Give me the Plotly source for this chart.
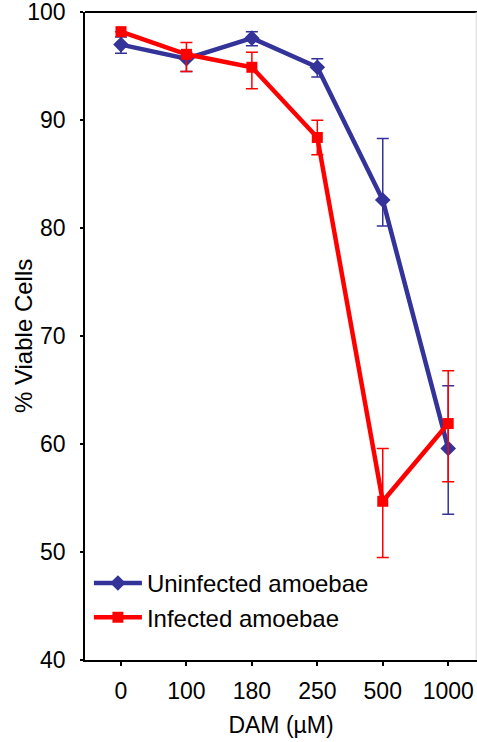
import plotly.graph_objects as go

categories = ["0", "100", "180", "250", "500", "1000"]
x_pos = [0, 1, 2, 3, 4, 5]

uninfected = [97.0, 95.7, 97.6, 94.9, 82.6, 59.6]
uninfected_err_plus = [0.7, 0.6, 0.6, 0.8, 5.7, 5.8]
uninfected_err_minus = [0.8, 1.2, 0.7, 0.9, 2.4, 6.1]

infected = [98.2, 96.1, 94.9, 88.4, 54.7, 61.9]
infected_err_plus = [0.0, 1.1, 1.4, 1.6, 4.9, 4.9]
infected_err_minus = [0.0, 1.6, 2.0, 1.6, 5.2, 5.4]

y_ticks = [40, 50, 60, 70, 80, 90, 100]

BLUE = "#333399"
RED = "#FF0000"
FONT = "Liberation Sans, Arial, sans-serif"

fig = go.Figure()
fig.add_trace(go.Scatter(
    x=x_pos, y=uninfected, mode="lines+markers", name="Uninfected amoebae",
    line=dict(color=BLUE, width=4.5),
    marker=dict(symbol="diamond", size=12, color=BLUE),
    error_y=dict(type="data", symmetric=False, array=uninfected_err_plus,
                 arrayminus=uninfected_err_minus, color=BLUE, thickness=1.5, width=6),
))
fig.add_trace(go.Scatter(
    x=x_pos, y=infected, mode="lines+markers", name="Infected amoebae",
    line=dict(color=RED, width=4.5),
    marker=dict(symbol="square", size=11, color=RED),
    error_y=dict(type="data", symmetric=False, array=infected_err_plus,
                 arrayminus=infected_err_minus, color=RED, thickness=1.5, width=6),
))

fig.update_layout(
    width=477, height=742,
    margin=dict(l=85, r=0, t=12, b=82),
    paper_bgcolor="white", plot_bgcolor="white",
    font=dict(family=FONT, color="black", size=23),
    showlegend=True,
    legend=dict(x=0.01, y=0.153, xanchor="left", yanchor="top",
                bgcolor="rgba(0,0,0,0)", font=dict(size=24, family=FONT),
                itemwidth=48, tracegroupgap=0),
    xaxis=dict(
        range=[-0.55, 5.44], tickmode="array", tickvals=x_pos, ticktext=categories,
        showline=True, linecolor="black", linewidth=1.5,
        ticks="outside", ticklen=4, tickcolor="black", tickwidth=1.5,
        showgrid=False, zeroline=False, automargin=False,
        ticklabelstandoff=6, ticklabeloverflow="allow",
        tickfont=dict(size=23, family=FONT),
        title=dict(text="DAM (µM)", font=dict(size=23, family=FONT), standoff=14),
    ),
    yaxis=dict(
        range=[40, 100.02], tickmode="array", tickvals=y_ticks,
        showline=True, linecolor="black", linewidth=1.5,
        ticks="outside", ticklen=3, tickcolor="black", tickwidth=1.5,
        showgrid=False, zeroline=False, automargin=False,
        ticklabelstandoff=10, ticklabeloverflow="allow",
        tickfont=dict(size=23, family=FONT),
    ),
    annotations=[
        dict(text="% Viable Cells", xref="paper", yref="paper",
             x=-0.158, y=0.5, xanchor="center", yanchor="middle",
             textangle=-90, showarrow=False, font=dict(size=24, family=FONT)),
    ],
    shapes=[
        dict(type="line", xref="paper", yref="paper", x0=0, x1=1, y0=1, y1=1,
             line=dict(color="black", width=2)),
        dict(type="line", xref="paper", yref="paper", x0=0.998, x1=0.998, y0=0, y1=1,
             line=dict(color="#d8d8d8", width=1)),
    ],
)

fig.write_html("out.html", config={"displayModeBar": False},
               post_script="document.body.style.margin='0';")
